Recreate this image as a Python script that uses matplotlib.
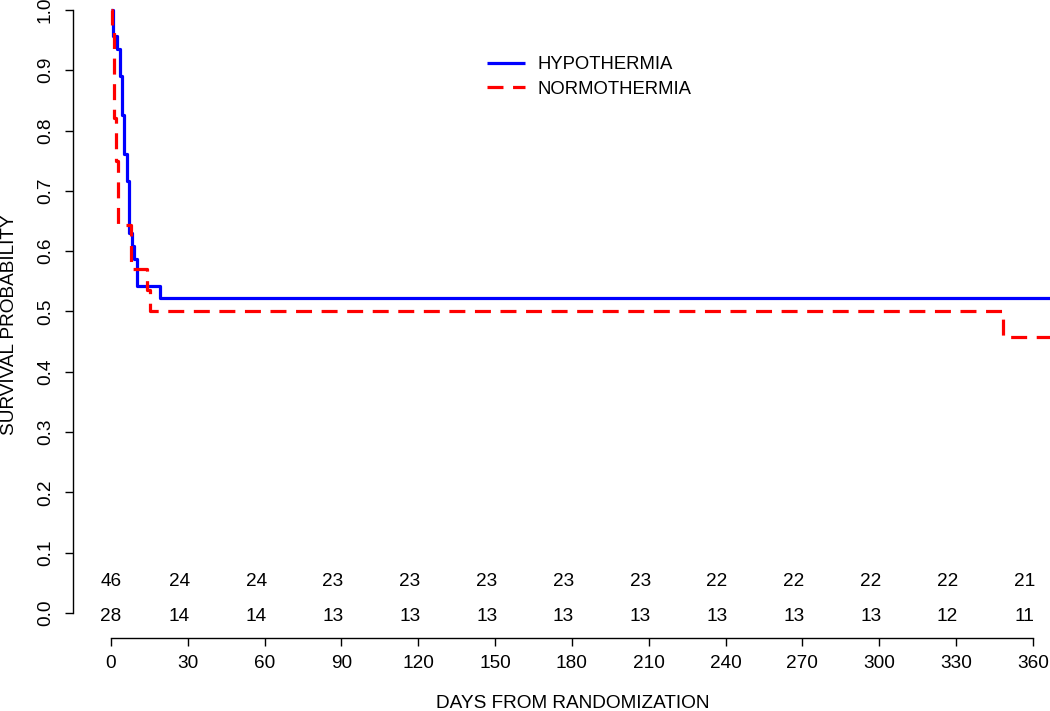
import matplotlib
matplotlib.use("Agg")
import matplotlib.pyplot as plt

plt.rcParams['font.family'] = ['Liberation Sans', 'DejaVu Sans']

# Kaplan-Meier estimates
hypo_days = [0, 0.9, 2.2, 3.5, 4.2, 5.2, 6.2, 7.0, 8.2, 9.0, 10.0, 19.1]
hypo_surv = [1.0, 0.957, 0.935, 0.891, 0.826, 0.761, 0.717, 0.630, 0.609, 0.587, 0.543, 0.522]
normo_days = [0, 0.3, 1.0, 1.8, 2.8, 7.8, 14.1, 15.2, 348.3]
normo_surv = [1.0, 0.964, 0.821, 0.750, 0.643, 0.571, 0.536, 0.500, 0.458]
end_day = 366.7

# numbers at risk
risk_hypo = [46, 24, 24, 23, 23, 23, 23, 23, 22, 22, 22, 22, 21]
risk_normo = [28, 14, 14, 13, 13, 13, 13, 13, 13, 13, 13, 12, 11]
risk_days = [0] + [30 * k - 3.3 for k in range(1, 13)]

x_ticks = list(range(0, 361, 30))
y_ticks = [i / 10 for i in range(11)]

W, H = 1050, 711
fig = plt.figure(figsize=(W / 100, H / 100), dpi=100)
# plot region in pixels: x 72.6..1050, y 0..638 (from top)
ax = fig.add_axes([72.6 / W, (H - 638) / H, (W - 72.6) / W, 638 / H])
ax.set_xlim(-15, end_day)
ax.set_ylim(-25 / 603, 1 + 10 / 603)

ax.plot(hypo_days + [end_day], hypo_surv + [hypo_surv[-1]], drawstyle='steps-post',
        color='#0000FF', lw=2.3, label='HYPOTHERMIA', solid_capstyle='butt')
ax.plot(normo_days + [end_day], normo_surv + [normo_surv[-1]], drawstyle='steps-post',
        color='#FF0000', lw=2.3, dashes=(5, 3), label='NORMOTHERMIA', dash_capstyle='butt')

fs = 13.7
for d, a, b in zip(risk_days, risk_hypo, risk_normo):
    ax.text(d, 0.053, str(a), ha='center', va='center', fontsize=fs)
    ax.text(d, -0.005, str(b), ha='center', va='center', fontsize=fs)

for s in ['top', 'right']:
    ax.spines[s].set_visible(False)
ax.spines['left'].set_bounds(0, 1)
ax.spines['bottom'].set_bounds(0, 360)
for s in ['left', 'bottom']:
    ax.spines[s].set_linewidth(1.0)

ax.set_xticks(x_ticks)
ax.set_xticklabels([str(t) for t in x_ticks])
ax.set_yticks(y_ticks)
ax.set_yticklabels(['%.1f' % t for t in y_ticks], rotation=90, va='center')
ax.tick_params(axis='both', length=5.5, width=1.0, labelsize=fs, direction='out')
ax.tick_params(axis='x', pad=7)
ax.tick_params(axis='y', pad=8)

fig.text(10 / W, 1 - 325 / H, 'SURVIVAL PROBABILITY', rotation=90, ha='center', va='center', fontsize=fs)
fig.text(573 / W, 1 - 704 / H, 'DAYS FROM RANDOMIZATION', ha='center', va='center', fontsize=fs)

ax.legend(loc='upper left', bbox_to_anchor=(487 / W, 1 - 56 / H), bbox_transform=fig.transFigure,
          frameon=False, fontsize=13.3, handlelength=2.05, handletextpad=0.7,
          labelspacing=0.41, borderpad=0, borderaxespad=0)

fig.savefig('out.png', dpi=100)
